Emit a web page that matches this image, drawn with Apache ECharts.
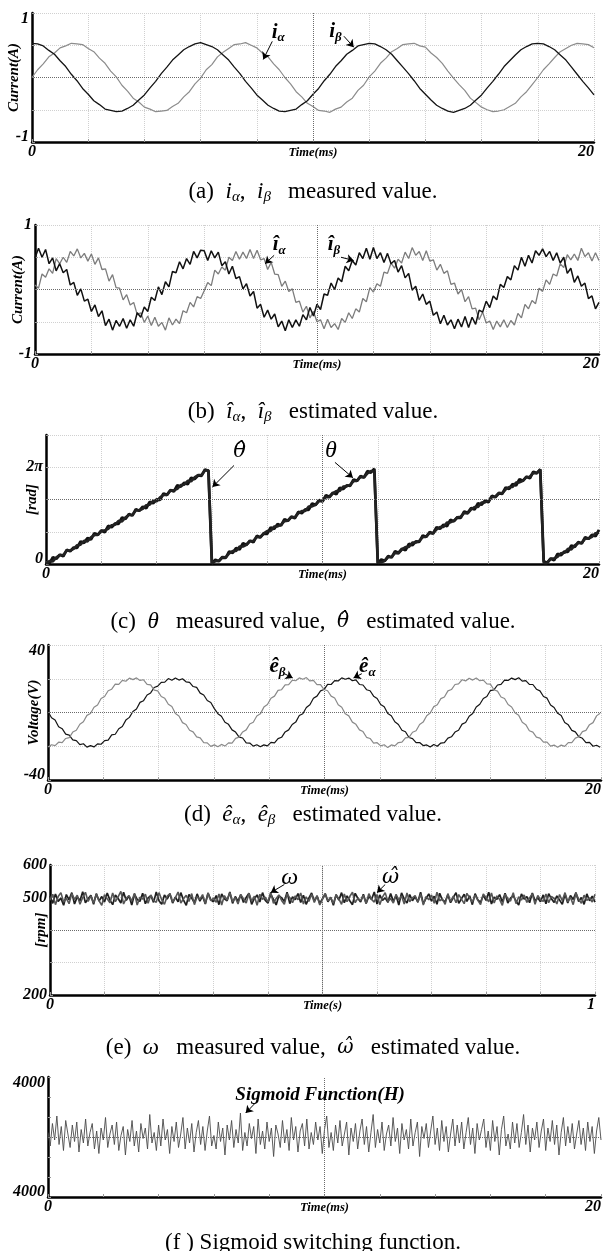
<!DOCTYPE html>
<html>
<head>
<meta charset="utf-8">
<title>Observer waveforms</title>
<script src="https://cdn.jsdelivr.net/npm/echarts@6/dist/echarts.min.js"></script>
<style>
  html, body { margin: 0; padding: 0; background: #fff; }
  #chart { width: 608px; height: 1251px; }
</style>
</head>
<body>
<div id="chart"></div>
<script>
// (a) measured currents, one sample every 0.2 ms
const IA_MEAS = [0.00,0.12,0.21,0.32,0.38,0.46,0.49,0.53,0.52,0.51,0.45,0.40,0.30,0.22,0.10,0.01,-0.12,-0.21,-0.32,-0.38,-0.46,-0.49,-0.53,-0.52,-0.51,-0.45,-0.40,-0.30,-0.22,-0.10,
  -0.01,0.12,0.20,0.32,0.39,0.45,0.51,0.52,0.54,0.50,0.46,0.38,0.32,0.21,0.12,0.00,-0.10,-0.22,-0.30,-0.40,-0.45,-0.51,-0.52,-0.54,-0.49,-0.46,-0.38,-0.32,-0.20,-0.12,
  0.01,0.10,0.22,0.30,0.40,0.45,0.51,0.52,0.53,0.49,0.47,0.38,0.31,0.22,0.10,-0.01,-0.11,-0.20,-0.32,-0.39,-0.46,-0.50,-0.53,-0.52,-0.50,-0.45,-0.40,-0.30,-0.22,-0.11,
  0.00,0.12,0.21,0.31,0.40,0.45,0.50,0.53,0.52,0.51,0.46];
const IB_MEAS = [0.53,0.52,0.49,0.42,0.36,0.26,0.17,0.05,-0.05,-0.17,-0.26,-0.36,-0.42,-0.49,-0.51,-0.53,-0.52,-0.48,-0.43,-0.35,-0.27,-0.16,-0.06,0.06,0.16,0.27,0.35,0.43,0.48,0.52,
  0.54,0.51,0.48,0.43,0.35,0.27,0.16,0.06,-0.06,-0.16,-0.27,-0.35,-0.43,-0.48,-0.52,-0.53,-0.51,-0.49,-0.42,-0.36,-0.26,-0.17,-0.05,0.05,0.17,0.26,0.36,0.42,0.49,0.51,
  0.53,0.52,0.48,0.43,0.36,0.26,0.16,0.06,-0.05,-0.17,-0.26,-0.35,-0.43,-0.48,-0.52,-0.54,-0.51,-0.48,-0.43,-0.35,-0.27,-0.16,-0.06,0.05,0.17,0.26,0.35,0.43,0.48,0.52,
  0.53,0.52,0.48,0.43,0.35,0.27,0.16,0.05,-0.06,-0.16,-0.27];

// (b) estimated currents, every 0.125 ms
const IA_EST = [.07,.02,.24,.19,.32,.25,.48,.40,.50,.42,.59,.52,.63,.49,.56,.44,.55,.39,.49,.31,.32,.13,.23,.03,.02,-.16,-.08,-.24,-.20,-.39,-.36,-.51,
  -.41,-.56,-.43,-.57,-.51,-.63,-.44,-.55,-.46,-.53,-.33,-.36,-.20,-.27,-.11,-.14,
  -.02,.11,.06,.30,.24,.35,.30,.50,.45,.59,.47,.58,.48,.62,.48,.61,.46,.48,.31,.42,.24,.23,.05,.13,-.03,.01,-.20,-.18,-.35,-.26,-.44,-.34,
  -.50,-.47,-.61,-.46,-.59,-.53,-.62,-.45,-.51,-.36,-.45,-.30,-.35,-.14,-.19,.03,
  -.04,.09,.05,.27,.25,.41,.33,.47,.41,.58,.48,.65,.53,.59,.45,.60,.44,.46,.30,.39,.25,.29,.08,.10,-.07,0,-.19,-.11,-.30,-.29,-.47,-.35,
  -.52,-.49,-.62,-.49,-.58,-.47,-.59,-.48,-.55,-.37,-.44,-.23,-.30,-.17,-.22,.02,
  -.03,.15,.08,.24,.21,.40,.34,.54,.46,.55,.45,.64,.51,.57,.44,.57,.45];
const IB_EST = [.49,.64,.50,.62,.40,.49,.29,.40,.26,.31,.07,.11,-.09,.01,-.18,-.15,-.34,-.24,-.42,-.33,-.56,-.46,-.63,-.48,-.57,-.45,-.60,-.47,-.57,-.36,-.43,-.27,
  -.34,-.12,-.17,.04,-.08,.12,.04,.28,.26,.43,.32,.48,.39,.59,.49,.61,
  .60,.45,.60,.49,.58,.37,.43,.24,.36,.17,.20,.01,.09,-.10,-.03,-.29,-.23,-.43,-.32,-.46,-.38,-.58,-.49,-.64,-.47,-.59,-.47,-.57,-.39,-.47,-.28,-.41,
  -.23,-.31,-.07,-.09,.10,0,.18,.12,.36,.29,.45,.38,.57,.48,.64,.47,
  .65,.48,.57,.42,.56,.40,.45,.27,.37,.18,.25,-.01,.05,-.17,-.07,-.23,-.18,-.40,-.35,-.53,-.40,-.55,-.47,-.61,-.46,-.58,-.42,-.59,-.43,-.54,-.32,-.35,
  -.18,-.28,-.10,-.16,.08,.03,.20,.15,.37,.30,.50,.36,.53,.41,.60,.53,
  .63,.51,.59,.45,.57,.41,.50,.25,.33,.11,.21,.05,.10,-.14,-.10,-.30,-.20];

// (c) rotor angle in rad, every 0.125 ms
const TH_EST = [.12,.03,.44,.34,.60,.50,.92,.83,1.07,1.05,1.46,1.37,1.68,1.59,2.00,1.90,2.16,2.06,2.48,2.39,2.63,2.61,3.02,2.93,3.24,3.15,3.56,3.46,3.72,3.62,4.04,3.95,
  4.19,4.17,4.58,4.49,4.80,4.71,5.12,5.02,5.28,5.18,5.60,5.51,5.75,5.73,6.14,6.05,
  .04,.27,.18,.42,.40,.81,.72,1.03,.94,1.35,1.25,1.51,1.41,1.83,1.74,1.98,1.96,2.37,2.28,2.59,2.50,2.91,2.81,3.07,2.97,3.39,3.30,3.54,3.52,3.93,3.84,4.15,
  4.06,4.47,4.37,4.63,4.53,4.95,4.86,5.10,5.08,5.49,5.40,5.71,5.62,6.03,5.93,6.19,
  .03,.29,.20,.51,.42,.83,.73,.99,.89,1.31,1.22,1.46,1.44,1.85,1.76,2.07,1.98,2.39,2.29,2.55,2.45,2.87,2.78,3.02,3.00,3.41,3.32,3.63,3.54,3.95,3.85,4.11,
  4.01,4.43,4.34,4.58,4.56,4.97,4.88,5.19,5.10,5.51,5.41,5.67,5.57,5.99,5.90,6.14,
  .18,.08,.34,.24,.66,.57,.81,.79,1.20,1.11,1.42,1.33,1.74,1.64,1.90,1.80,2.22];
const TH_MEAS = [.01,.20,.17,.43,.58,.58,.87,.88,.98,1.22,1.25,1.50,1.47,1.73,1.88,1.88,2.17,2.18,2.28,2.52,2.55,2.80,2.77,3.03,3.18,3.18,3.47,3.48,3.58,3.82,3.85,4.10,
  4.07,4.33,4.48,4.48,4.77,4.78,4.88,5.12,5.15,5.40,5.37,5.63,5.78,5.78,6.07,6.08,
  .02,.18,.21,.46,.43,.69,.84,.84,1.13,1.14,1.24,1.48,1.51,1.76,1.73,1.99,2.14,2.14,2.43,2.44,2.54,2.78,2.81,3.06,3.03,3.29,3.44,3.44,3.73,3.74,3.84,4.08,
  4.11,4.36,4.33,4.59,4.74,4.74,5.03,5.04,5.14,5.38,5.41,5.66,5.63,5.89,6.04,6.04,
  .09,.10,.20,.44,.47,.72,.69,.95,1.10,1.10,1.39,1.40,1.50,1.74,1.77,2.02,1.99,2.25,2.40,2.40,2.69,2.70,2.80,3.04,3.07,3.32,3.29,3.55,3.70,3.70,3.99,4.00,
  4.10,4.34,4.37,4.62,4.59,4.85,5.00,5.00,5.29,5.30,5.40,5.64,5.67,5.92,5.89,6.15,
  .06,.06,.35,.36,.46,.70,.73,.98,.95,1.21,1.36,1.36,1.65,1.66,1.76,2.00,2.03];

// (d) estimated back-EMF in V, every 0.128 ms
const EA_EST = [.6,-3.1,-4.4,-8.4,-9.6,-12.8,-13.4,-16.2,-16.7,-19.0,-18.5,-20.5,-19.6,-20.4,-18.6,-18.8,-16.7,-16.4,-13.3,-12.9,-9.6,-8.3,-4.5,-2.9,.6,2.1,6.0,7.0,10.4,11.6,14.8,15.6,
  17.9,18.0,20.1,19.1,20.4,19.2,20.0,18.2,17.9,15.4,14.9,11.5,10.4,7.1,5.9,2.3,
  -.7,-2.2,-5.8,-7.0,-10.3,-11.6,-14.6,-15.1,-18.0,-18.1,-19.9,-19.1,-20.3,-19.2,-19.8,-17.7,-18.0,-15.5,-14.7,-11.5,-10.3,-7.1,-5.7,-1.8,-.7,3.0,4.6,8.4,9.7,12.8,13.6,16.7,
  16.6,18.9,18.7,20.5,19.7,20.4,18.8,19.3,16.6,16.3,13.5,12.9,9.7,8.3,4.7,3.4,
  -.6,-1.9,-5.5,-7.1,-10.5,-11.4,-14.8,-15.5,-17.9,-17.8,-19.6,-19.2,-20.5,-19.0,-20.0,-18.1,-17.9,-15.2,-14.4,-11.6,-10.5,-6.9,-5.9,-2.2,-.6,3.3,4.9,8.3,9.5,13.0,13.4,16.3,
  16.7,19.2,19.0,20.4,19.5,20.6,18.6,18.9,16.7,16.6,13.8,12.8,9.5,8.5,4.5,3.0,
  -.5,-1.8,-5.9,-7.3,-10.6,-11.5,-14.4,-15.3,-17.8,-17.7,-20.0,-19.4,-20.6];
const EB_EST = [-20.5,-19.1,-19.6,-17.6,-17.9,-15.4,-14.9,-11.6,-10.5,-7.0,-5.5,-1.7,-.6,3.1,4.4,8.3,9.5,12.9,13.8,16.8,16.7,19.0,18.5,20.4,19.5,20.5,19.0,19.4,16.7,16.4,13.3,12.8,
  9.5,8.4,4.9,3.5,-.6,-2.1,-6.0,-7.1,-10.5,-11.5,-14.4,-15.0,-17.9,-18.0,-20.1,-19.2,
  -20.3,-18.9,-19.9,-18.0,-18.1,-15.3,-14.6,-11.5,-10.3,-6.8,-5.8,-2.1,-.8,3.2,4.7,8.4,9.7,13.1,13.5,16.4,16.5,19.1,18.8,20.5,19.7,20.7,18.7,19.0,16.5,16.5,13.6,12.9,
  9.7,8.6,4.6,3.1,-.8,-2.0,-5.7,-7.0,-10.3,-11.3,-14.7,-15.4,-18.1,-17.9,-19.8,-19.1,
  -20.8,-19.2,-19.8,-17.8,-17.6,-15.0,-14.7,-11.7,-10.8,-7.1,-5.7,-1.9,-.3,3.5,4.6,8.2,9.2,12.8,13.6,16.6,17.0,19.4,18.7,20.3,19.2,20.4,18.8,19.2,17.0,16.8,13.5,12.7,
  9.2,8.3,4.7,3.3,-.3,-1.7,-5.8,-7.2,-10.8,-11.6,-14.6,-15.2,-17.6,-17.6,-19.9,-19.3,
  -20.6,-19.3,-20.1,-17.9,-17.8,-15.2,-14.4,-11.3,-10.6,-7.2,-6.0,-2.0,-.5];

// (e) speed in rpm, every 5 ms over 1 s
const W_MEAS = [505,482,511,488,498,476,509,493,515,480,502,490,518,484,496,507,479,512,489,503,
  486,514,492,478,508,497,483,516,491,505,477,510,494,488,513,481,499,506,485,517,
  490,479,508,495,512,483,501,487,515,492,476,509,498,484,511,489,504,480,514,493,
  487,506,478,511,496,490,517,482,503,488,509,485,500,513,479,497,508,486,515,491,
  483,510,494,477,506,499,488,516,481,502,493,512,485,507,479,498,514,489,504,482,
  496,511,487,501,476,509,492,515,484,505,490,478,513,497,486,510,482,503,494,517,
  480,508,491,499,485,512,488,506,477,514,495,483,509,490,502,486,516,481,497,511,
  489,504,479,513,492,487,508,484,500,515,482,496,510,488,505,478,512,493,485,507,
  491,516,480,501,494,509,486,513,483,498,506,489,477,511,495,503,484,514,490,499,
  487,508,481,512,496,485,505,492,479,510,483,506,494,515,488,500,479,511,490,504,486];
const W_EST = [492,510,478,503,515,486,497,481,512,494,507,479,500,516,488,505,483,511,490,476,
  509,496,484,514,487,502,519,480,498,506,489,513,477,501,495,510,482,508,491,485,
  515,493,479,504,511,486,499,517,483,496,507,488,512,478,503,494,509,481,514,490,
  498,485,511,477,506,492,515,487,500,480,509,496,483,513,489,504,476,510,494,501,
  486,516,482,497,508,491,479,512,499,484,505,493,514,480,502,488,510,485,506,477,
  495,513,489,500,482,508,496,479,511,487,503,516,484,498,490,507,481,512,494,486,
  509,478,501,515,488,497,483,510,492,505,480,514,487,499,506,485,511,477,503,493,
  508,482,516,490,496,479,512,488,504,484,509,495,481,513,498,486,507,491,478,511,
  500,487,514,483,505,494,476,510,497,489,515,481,502,492,508,485,499,512,479,506,
  493,488,511,484,503,497,480,509,490,515,487,501,478,513,495,482,507,491,499,486,510];

// (f) sigmoid switching function, every 0.08 ms
const H_SIG = [300,-600,900,-200,1400,-500,700,-900,1100,200,-700,800,-300,1000,-1000,500,-400,1200,-600,300,
  900,-800,400,-1100,600,-200,1300,-700,200,800,-500,1000,-900,100,700,-1200,500,-300,1100,-600,
  400,-1000,900,-100,600,-800,1500,-400,300,-900,800,-600,1200,-200,500,-1100,700,-300,1000,-700,
  200,1300,-800,600,-400,900,-1000,300,1100,-500,700,-900,400,1400,-600,100,-800,1000,-300,600,
  -1200,800,-200,1100,-700,500,-400,1600,-900,300,-600,900,-100,700,-1100,1200,-500,400,-800,1000,
  -300,600,-1300,800,200,-700,1100,-400,500,-900,1300,-200,700,-1000,400,900,-600,1200,-800,300,
  -500,1000,-200,700,-1100,500,1400,-700,300,-900,800,-400,1100,-600,200,1000,-1200,600,-300,900,
  -800,400,1200,-500,700,-1000,300,1500,-700,500,-400,1000,-900,200,800,-600,1300,-300,600,-1100,
  900,-200,500,-800,1200,-600,300,1000,-1300,700,-100,900,-700,400,1400,-500,600,-900,1100,-300,
  700,-1000,200,1200,-600,800,-400,1000,-800,300,1300,-500,600,-1100,900,-200,500,1200,-700,400,
  -900,1100,-300,700,-1200,500,1400,-600,200,-800,1000,-400,900,-700,300,1500,-500,800,-1000,600,
  -200,1000,-700,400,1200,-900,600,-300,1100,-500,800,-1200,300,1300,-600,700,-400,900,-800,200,
  1100,-500,600,-900,1000,-300,700,-1100,400,1300,-200];

const CAPTIONS = [
  '(a)  {i|i}{s|α},  {i|i}{s|β}   measured value.',
  '(b)  {i|î}{s|α},  {i|î}{s|β}   estimated value.',
  '(c)  {i|θ}   measured value,  {h|θ\u0302}   estimated value.',
  '(d)  {i|ê}{s|α},  {i|ê}{s|β}   estimated value.',
  '(e)  {i|ω}   measured value,  {h|ω\u0302}   estimated value.',
  '(f ) Sigmoid switching function.'
];

const SERIF = '"Liberation Serif", "Times New Roman", Times, serif';
const DEJAVU = '"DejaVu Serif", serif';
const PI2 = 2 * Math.PI;

// panel boxes in px
const boxes = [
  { left: 32, right: 594, top: 13, bottom: 142, cap: 187 },
  { left: 35, right: 599, top: 225, bottom: 354, cap: 407 },
  { left: 46, right: 599, top: 435, bottom: 564, cap: 617 },
  { left: 48, right: 601, top: 645, bottom: 780, cap: 810 },
  { left: 50, right: 595, top: 865, bottom: 995, cap: 1043 },
  { left: 48, right: 601, top: 1077, bottom: 1197, cap: 1238 }
];

const toXY = (step, values) => values.map((v, i) => [+(i * step).toFixed(4), v]);

const bi = (size) => ({ fontFamily: SERIF, fontStyle: 'italic', fontWeight: 'bold', fontSize: size, color: '#000' });

const LABEL_RICH = {
  b: bi(21),
  bs: Object.assign(bi(13), { padding: [11, 0, 0, 0] }),
  t: { fontFamily: SERIF, fontStyle: 'italic', fontSize: 24, color: '#000' },
  h: { fontFamily: DEJAVU, fontStyle: 'italic', fontSize: 21, color: '#000' },
  f: bi(19)
};

const TICK_RICH = {
  n: bi(16),
  top: Object.assign(bi(16), { padding: [12, 0, 0, 0] }),
  bot: Object.assign(bi(16), { padding: [0, 0, 10, 0] })
};

const near = (a, b) => Math.abs(a - b) < 1e-3;

function makeX(i, max, step, name, showGrid) {
  return {
    gridIndex: i, type: 'value', min: 0, max: max, interval: step,
    name: name, nameLocation: 'middle', nameGap: 4, nameMoveOverlap: false, nameTextStyle: bi(12.5),
    axisLine: { onZero: false, lineStyle: { color: '#000', width: 2.5 } },
    axisTick: { show: true, inside: true, length: 3, lineStyle: { color: '#999' } },
    axisLabel: {
      margin: 2, showMinLabel: true, showMaxLabel: true, alignMaxLabel: 'right',
      formatter: (v) => near(v, 0) ? '0' : (near(v, max) ? String(max) : ''),
      ...bi(16)
    },
    splitLine: { show: showGrid, lineStyle: { type: 'dotted', color: '#d0d0d0' } }
  };
}

function makeY(i, min, max, step, name, gap, fmt, showGrid) {
  return {
    gridIndex: i, type: 'value', min: min, max: max, interval: step,
    name: name, nameLocation: 'middle', nameRotate: 90, nameGap: gap, nameMoveOverlap: false, nameTextStyle: bi(15),
    axisLine: { onZero: false, lineStyle: { color: '#000', width: 2.5 } },
    axisTick: { show: true, inside: true, length: 3, lineStyle: { color: '#999' } },
    axisLabel: { margin: 3, formatter: fmt, rich: TICK_RICH, ...bi(16) },
    splitLine: { show: showGrid, lineStyle: { type: 'dotted', color: '#d0d0d0' } }
  };
}

// centre cross, arrows and trace labels of a panel
function notes(cross, labels, arrows) {
  const dot = { type: 'dotted', color: '#6a6a6a', width: 1 };
  const solid = { type: 'solid', color: '#000', width: 1 };
  return {
    markLine: {
      silent: true, animation: false, symbol: ['none', 'none'], label: { show: false },
      data: [
        { xAxis: cross[0], lineStyle: dot },
        { yAxis: cross[1], lineStyle: dot }
      ].concat(arrows.map((a) => [
        { coord: a[0], symbol: 'none', lineStyle: solid },
        { coord: a[1], symbol: 'arrow', symbolSize: 7, lineStyle: solid }
      ]))
    },
    markPoint: {
      silent: true, animation: false, symbol: 'circle', symbolSize: 1,
      itemStyle: { color: 'rgba(0,0,0,0)' },
      label: { show: true, position: 'inside', rich: LABEL_RICH },
      data: labels.map((l) => ({ coord: l[1], value: 0, label: { formatter: l[0] } }))
    }
  };
}

function line(i, data, color, width, extra) {
  return Object.assign({
    type: 'line', xAxisIndex: i, yAxisIndex: i, data: data,
    showSymbol: false, symbol: 'none', silent: true, animation: false,
    lineStyle: { color: color, width: width }
  }, extra || {});
}

const chart = echarts.init(document.getElementById('chart'));

chart.setOption({
  animation: false,
  backgroundColor: '#fff',
  textStyle: { fontFamily: SERIF },
  title: boxes.map((b, i) => ({
    text: CAPTIONS[i], left: 308, top: b.cap - 14, textAlign: 'center',
    textStyle: {
      fontFamily: SERIF, fontSize: 23, fontWeight: 'normal', color: '#000', lineHeight: 28,
      rich: {
        i: { fontFamily: SERIF, fontStyle: 'italic', fontSize: 23, color: '#000' },
        h: { fontFamily: DEJAVU, fontStyle: 'italic', fontSize: 20, color: '#000' },
        s: { fontFamily: SERIF, fontStyle: 'italic', fontSize: 15, color: '#000', padding: [11, 0, 0, 0] }
      }
    }
  })),
  grid: boxes.map((b) => ({
    left: b.left, top: b.top, width: b.right - b.left, height: b.bottom - b.top,
    containLabel: false, outerBoundsMode: 'none'
  })),
  xAxis: [
    makeX(0, 20, 2, 'Time(ms)', true),
    makeX(1, 20, 2, 'Time(ms)', true),
    makeX(2, 20, 2, 'Time(ms)', true),
    makeX(3, 20, 2, 'Time(ms)', true),
    makeX(4, 1, 0.1, 'Time(s)', true),
    makeX(5, 20, 2, 'Time(ms)', false)
  ],
  yAxis: [
    makeY(0, -1, 1, 0.5, 'Current(A)', 10, (v) => near(v, 1) ? '{top|1}' : (near(v, -1) ? '{bot|-1}' : ''), true),
    makeY(1, -1, 1, 0.5, 'Current(A)', 9, (v) => near(v, 1) ? '{n|1}' : (near(v, -1) ? '{n|-1}' : ''), true),
    makeY(2, 0, 4 * PI2 / 3, PI2 / 3, '[rad]', 6, (v) => near(v, 0) ? '{bot|0}' : (near(v, PI2) ? '{n|2π}' : ''), true),
    makeY(3, -40, 40, 20, 'Voltage(V)', 6, (v) => near(v, 40) ? '{top|40}' : (near(v, -40) ? '{bot|-40}' : ''), true),
    makeY(4, 200, 600, 100, '[rpm]', 1, (v) => (near(v, 600) || near(v, 500) || near(v, 200)) ? '{n|' + v + '}' : '', true),
    makeY(5, -4000, 4000, 4000 / 3, '', 0, (v) => near(v, 4000) ? '{top|4000}' : (near(v, -4000) ? '{bot|4000}' : ''), false)
  ],
  series: [
    line(0, toXY(0.2, IA_MEAS), '#8c8c8c', 1.2, notes([10, 0],
      [['{b|i}{bs|α}', [8.76, 0.70]], ['{b|i}{bs|β}', [10.8, 0.71]]],
      [[[8.55, 0.56], [8.23, 0.28]], [[11.1, 0.64], [11.45, 0.47]]])),
    line(0, toXY(0.2, IB_MEAS), '#141414', 1.3),

    line(1, toXY(0.125, IA_EST), '#7c7c7c', 1.3, notes([10, 0],
      [['{b|î}{bs|α}', [8.66, 0.69]], ['{b|î}{bs|β}', [10.6, 0.69]]],
      [[[8.48, 0.53], [8.16, 0.40]], [[10.85, 0.50], [11.3, 0.45]]])),
    line(1, toXY(0.125, IB_EST), '#111', 1.5),

    line(2, toXY(0.125, TH_EST), '#111', 2.8, notes([10, 2 * PI2 / 3],
      [['{h|θ\u0302}', [7.0, 7.33]], ['{t|θ}', [10.3, 7.33]]],
      [[[6.8, 6.4], [6.02, 5.0]], [[10.45, 6.6], [11.1, 5.6]]])),
    line(2, toXY(0.125, TH_MEAS), '#222', 2.6),

    line(3, toXY(0.128, EA_EST), '#141414', 1.2, notes([10, 0],
      [['{b|ê}{bs|β}', [8.3, 27]], ['{b|ê}{bs|α}', [11.55, 27]]],
      [[[8.55, 23], [8.85, 20.5]], [[11.35, 23], [11.05, 20.5]]])),
    line(3, toXY(0.128, EB_EST), '#8a8a8a', 1.2),

    line(4, toXY(0.005, W_MEAS), '#1e1e1e', 1.7, notes([0.5, 400],
      [['{t|ω}', [0.44, 562]], ['{h|ω\u0302}', [0.625, 562]]],
      [[[0.43, 540], [0.405, 515]], [[0.615, 540], [0.60, 515]]])),
    line(4, toXY(0.005, W_EST), '#555', 1.6),

    line(5, toXY(0.08, H_SIG), '#4a4a4a', 0.9, notes([10, 0],
      [['{f|Sigmoid Function(H)}', [9.84, 2800]]],
      [[[7.5, 2270], [7.15, 1600]]]))
  ]
});
</script>
</body>
</html>
